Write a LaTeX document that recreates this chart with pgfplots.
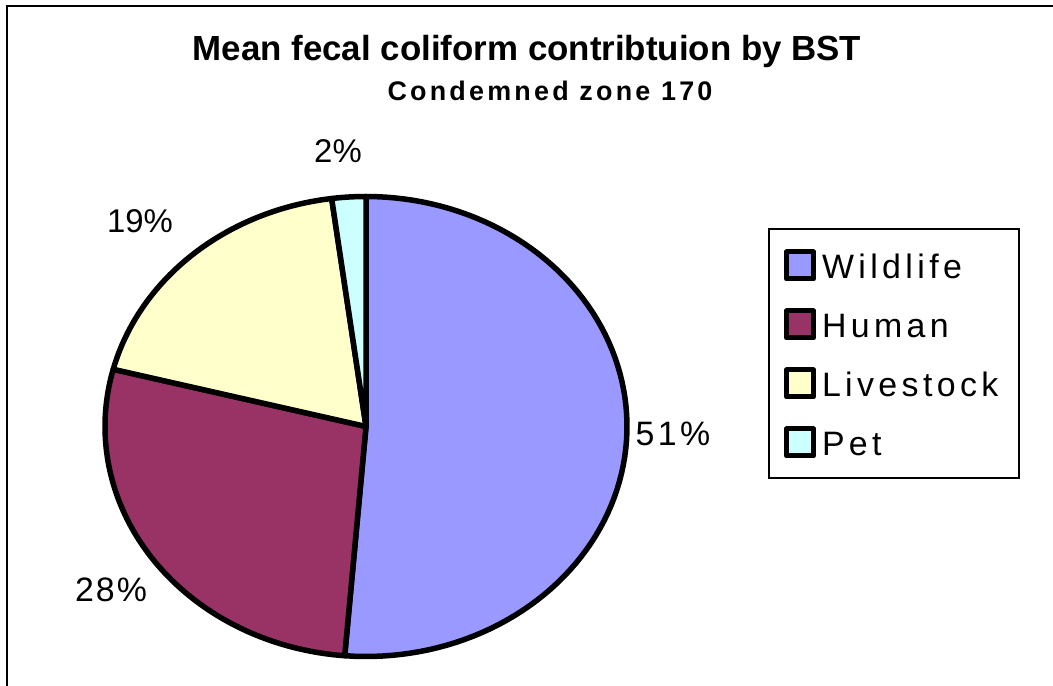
\documentclass[border=0pt]{standalone}
\usepackage{fontspec}
\setmainfont{Liberation Sans}
\usepackage{pgfplots}
\usepackage{pgfplotstable}
\pgfplotsset{compat=1.18}

\definecolor{cWild}{HTML}{9999FF}
\definecolor{cHuman}{HTML}{993366}
\definecolor{cLive}{HTML}{FFFFCC}
\definecolor{cPet}{HTML}{CCFFFF}

% share of fecal coliform by source (percent)
\pgfplotstableread{
source    value
Wildlife  51.3
Human     27.7
Livestock 18.9
Pet       2.1
}\pietable

% cumulative angles, clockwise from 12 o'clock
\pgfplotstablegetelem{0}{value}\of\pietable \let\vA\pgfplotsretval
\pgfplotstablegetelem{1}{value}\of\pietable \let\vB\pgfplotsretval
\pgfplotstablegetelem{2}{value}\of\pietable \let\vC\pgfplotsretval
\pgfplotstablegetelem{3}{value}\of\pietable \let\vD\pgfplotsretval
\pgfmathsetmacro\aA{90}
\pgfmathsetmacro\aB{\aA-3.6*\vA}
\pgfmathsetmacro\aC{\aB-3.6*\vB}
\pgfmathsetmacro\aD{\aC-3.6*\vC}
\pgfmathsetmacro\aE{\aD-3.6*\vD}
\def\cx{366}\def\cy{259.5}\def\rx{261}\def\ry{230}

\begin{document}
\begin{tikzpicture}
\begin{axis}[
    name=ax,
    width=1053bp, height=686bp,
    scale only axis,
    xmin=0, xmax=1053, ymin=0, ymax=686,
    hide axis,
    clip=false,
    samples=90,
    legend style={
        at={(axis cs:768,458)}, anchor=north west,
        draw=black, line width=2bp,
        inner xsep=15bp, inner ysep=20bp,
        row sep=26.5bp,
        font=\fontsize{34}{34}\selectfont\addfontfeatures{LetterSpace=13},
        nodes={text height=30bp, text depth=1bp, inner xsep=6bp, inner ysep=0bp},
        cells={anchor=base west},
    },
    legend image code/.code={
        \draw[#1, line width=5bp] (2.5bp,0bp) rectangle (29.5bp,27bp);
    },
]
\addplot[fill=cWild, draw=black, line width=5.5bp, line join=round, domain=\aB:\aA, variable=\t]
    ({\cx+\rx*cos(\t)}, {\cy+\ry*sin(\t)}) -- (axis cs:\cx,\cy) -- cycle;
\addplot[fill=cHuman, draw=black, line width=5.5bp, line join=round, domain=\aC:\aB, variable=\t]
    ({\cx+\rx*cos(\t)}, {\cy+\ry*sin(\t)}) -- (axis cs:\cx,\cy) -- cycle;
\addplot[fill=cLive, draw=black, line width=5.5bp, line join=round, domain=\aD:\aC, variable=\t]
    ({\cx+\rx*cos(\t)}, {\cy+\ry*sin(\t)}) -- (axis cs:\cx,\cy) -- cycle;
\addplot[fill=cPet, draw=black, line width=5.5bp, line join=round, domain=\aE:\aD, variable=\t, samples=10]
    ({\cx+\rx*cos(\t)}, {\cy+\ry*sin(\t)}) -- (axis cs:\cx,\cy) -- cycle;
\legend{Wildlife, Human, Livestock, Pet}

% frame (only left and top edges show)
\draw[line width=2.5bp] (axis cs:7,0) -- (axis cs:7,680) -- (axis cs:1053,680);

% titles
\node[anchor=base, font=\bfseries\fontsize{35}{35}\selectfont] at (axis cs:527,625)
    {Mean fecal coliform contribtuion by BST};
\node[anchor=base, font=\bfseries\fontsize{27}{27}\selectfont\addfontfeatures{LetterSpace=12}] at (axis cs:550,585)
    {Condemned zone 170};

% data labels
\node[anchor=base, font=\fontsize{34}{34}\selectfont\addfontfeatures{LetterSpace=10}] at (axis cs:673,240) {51\%};
\node[anchor=base, font=\fontsize{34}{34}\selectfont\addfontfeatures{LetterSpace=6}] at (axis cs:111,84) {28\%};
\node[anchor=base, font=\fontsize{33}{33}\selectfont] at (axis cs:140,453) {19\%};
\node[anchor=base, font=\fontsize{33}{33}\selectfont] at (axis cs:338,523) {2\%};
\end{axis}
\pgfresetboundingbox
\path[use as bounding box] (ax.south west) rectangle (ax.north east);
\end{tikzpicture}
\end{document}
